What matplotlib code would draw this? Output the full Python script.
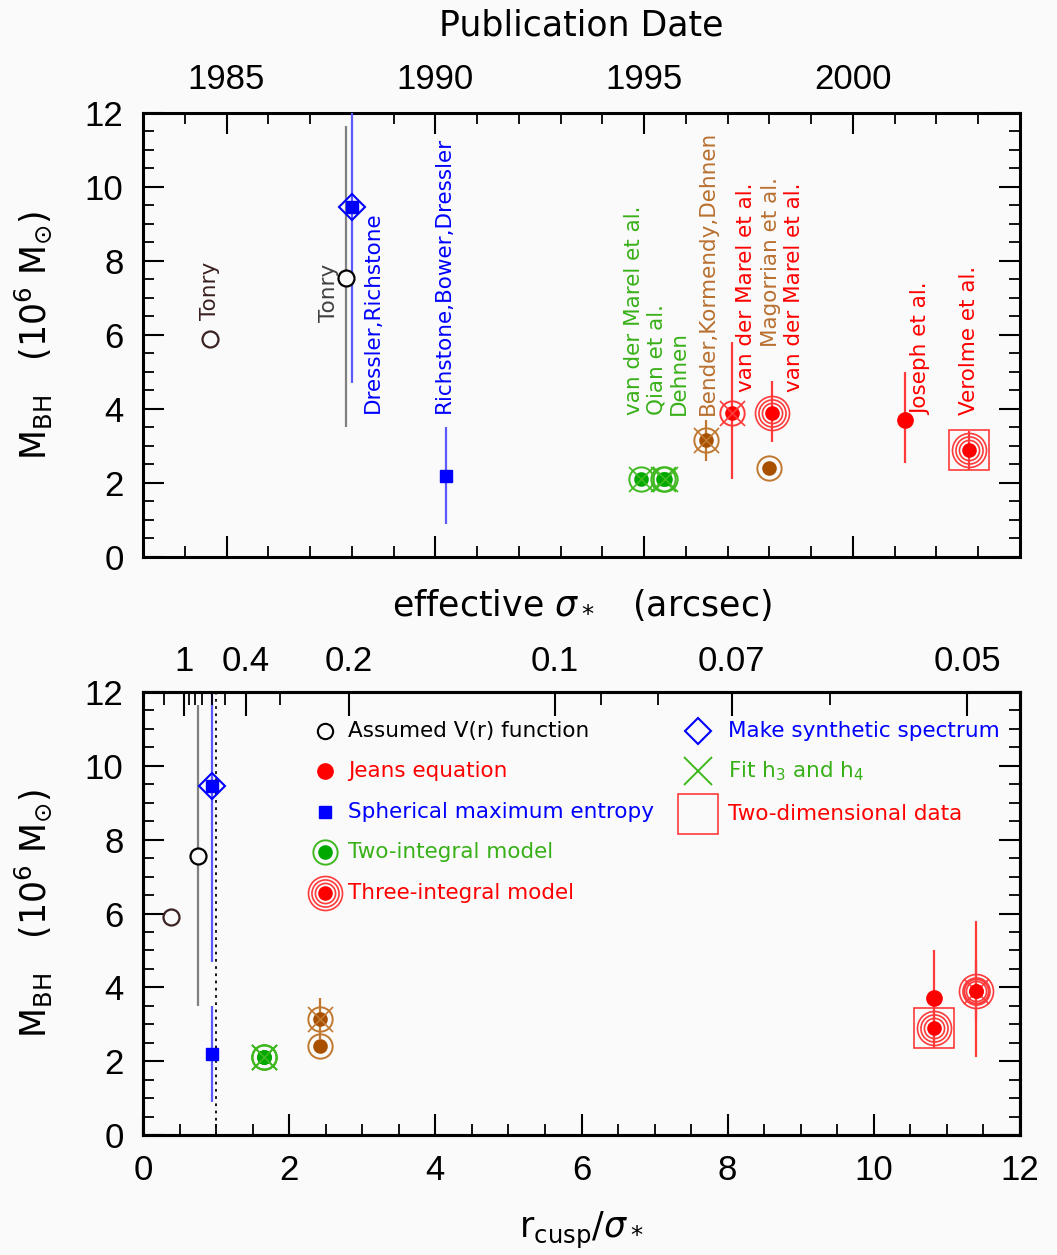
import numpy as np
import matplotlib
matplotlib.use("Agg")
import matplotlib.pyplot as plt
from matplotlib.ticker import MultipleLocator, FixedLocator

# ---------------- data ----------------
ref_labels = ["Tonry", "Tonry", "Dressler,Richstone", "Richstone,Bower,Dressler",
              "van der Marel et al.", "Qian et al.", "Dehnen", "Bender,Kormendy,Dehnen",
              "van der Marel et al.", "Magorrian et al.", "van der Marel et al.",
              "Joseph et al.", "Verolme et al."]
pub_year = [1984.6, 1987.85, 1988.0, 1990.25, 1994.92, 1995.45, 1995.5,
            1996.47, 1997.1, 1998.0, 1998.05, 2001.25, 2002.77]
m_bh = [5.9, 7.55, 9.45, 2.2, 2.1, 2.1, 2.1, 3.15, 3.9, 2.4, 3.9, 3.7, 2.9]
err_lo = [np.nan, 3.5, 4.7, 0.9, np.nan, np.nan, np.nan, 2.6, 2.1, np.nan, 3.1, 2.55, 2.35]
err_hi = [np.nan, 11.65, 13.0, 3.5, np.nan, np.nan, np.nan, 3.7, 5.8, np.nan, 4.75, 5.0, 3.4]
r_over_sigma = [0.38, 0.75, 0.95, 0.95, 1.66, 1.66, 1.66, 2.42, 11.4, 2.42, 11.4, 10.83, 10.83]
model = ["vr", "vr", "maxent", "maxent", "2int", "2int", "2int", "2int", "2int",
         "2int", "3int", "jeans", "3int"]
synth_spec = [False, False, True, False, False, False, False, False, False, False, False, False, False]
fit_h3h4 = [False, False, False, False, True, True, True, True, True, False, False, False, False]
two_dim = [False] * 12 + [True]

sigma_major = [1, 0.4, 0.2, 0.1, 0.07, 0.05]
sigma_minor = [2, 0.9, 0.8, 0.7, 0.6, 0.5, 0.3, 0.09, 0.08, 0.06]
r_cusp = 0.564  # arcsec
dotted_x = 1.0

legend_left = ["Assumed V(r) function", "Jeans equation", "Spherical maximum entropy",
               "Two-integral model", "Three-integral model"]
legend_right = ["Make synthetic spectrum", "Fit h$_3$ and h$_4$", "Two-dimensional data"]

# ---------------- styles ----------------
RED, RED_L = "#ff0000", "#ff3a3a"
GREEN, GREEN_L, GREEN_T = "#00a800", "#40b820", "#38b018"
BROWN, BROWN_L, BROWN_T = "#a85000", "#c07830", "#b87030"
BLUE, BLUE_L = "#0000ff", "#5a5aff"
pt_col = ["#3a2020", "#000000", BLUE, BLUE, GREEN, GREEN, GREEN, BROWN, RED, BROWN, RED, RED, RED]
ring_col = [None, None, None, None, GREEN_L, GREEN_L, GREEN_L, BROWN_L, RED_L, BROWN_L, RED_L, None, RED_L]
err_col = [None, "#808080", BLUE_L, BLUE_L, None, None, None, BROWN_L, RED_L, None, RED_L, RED_L, RED_L]
lab_col = ["#3a2020", "#404040", BLUE, BLUE, GREEN_T, GREEN_T, GREEN_T, BROWN_T, RED, BROWN_T, RED, RED, RED]
# label anchor (x in years, y = lower end of text)
lab_pos = [(1984.6, 6.4), (1987.45, 6.35), (1988.5, 3.9), (1990.2, 3.9), (1994.75, 3.84),
           (1995.3, 3.84), (1995.84, 3.84), (1996.53, 3.84), (1997.45, 4.46), (1998.03, 5.68),
           (1998.6, 4.46), (2001.64, 3.84), (2002.77, 3.84)]

BG = "#fafafa"
TICKFONT = "Liberation Sans"
plt.rcParams["font.family"] = ["DejaVu Sans"]
plt.rcParams["mathtext.fontset"] = "dejavusans"


def draw_marker(ax, x, y, i, clip=True):
    kw = dict(linestyle="none", clip_on=clip)
    m = model[i]
    if synth_spec[i]:
        ax.plot(x, y, "D", ms=13, mfc="none", mec=BLUE, mew=1.5, zorder=5, **kw)
    if m == "vr":
        ax.plot(x, y, "o", ms=11.5, mfc=BG, mec=pt_col[i], mew=1.6, zorder=6, **kw)
    elif m == "maxent":
        ax.plot(x, y, "s", ms=9, color=pt_col[i], zorder=6, **kw)
    elif m == "jeans":
        ax.plot(x, y, "o", ms=11, color=pt_col[i], zorder=6, **kw)
    elif m == "2int":
        ax.plot(x, y, "o", ms=9.5, color=pt_col[i], zorder=6, **kw)
        ax.plot(x, y, "o", ms=17.5, mfc="none", mec=ring_col[i], mew=1.4, zorder=6, **kw)
    elif m == "3int":
        ax.plot(x, y, "o", ms=9.5, color=pt_col[i], zorder=6, **kw)
        for s in (14.5, 19.5, 24.5):
            ax.plot(x, y, "o", ms=s, mfc="none", mec=ring_col[i], mew=1.2, zorder=6, **kw)
    if fit_h3h4[i]:
        ax.plot(x, y, "x", ms=18, mec=ring_col[i] or pt_col[i], mew=1.2, zorder=6, **kw)
    if two_dim[i]:
        ax.plot(x, y, "s", ms=29, mfc="none", mec=RED_L, mew=1.2, zorder=6, **kw)


def draw_err(ax, x, i):
    if not np.isnan(err_lo[i]):
        ax.vlines(x, err_lo[i], err_hi[i], colors=err_col[i], lw=1.6, zorder=3)


def style_axis(ax):
    ax.set_facecolor(BG)
    for s in ax.spines.values():
        s.set_linewidth(2.2)
    ax.set_ylim(0, 12)
    ax.yaxis.set_major_locator(MultipleLocator(2))
    ax.yaxis.set_minor_locator(MultipleLocator(0.5))
    ax.tick_params(axis="both", which="major", direction="in", length=15, width=1.5)
    ax.tick_params(axis="both", which="minor", direction="in", length=8, width=1.3)
    ax.tick_params(axis="y", which="both", left=True, right=True, pad=14)
    for lab in ax.get_yticklabels():
        lab.set_fontfamily(TICKFONT)
        lab.set_fontsize(25)
    ax.set_ylabel(r"M$_{\mathrm{BH}}$   (10$^{6}$ M$_{\odot}$)", fontsize=25, labelpad=22)


fig = plt.figure(figsize=(10.57, 12.55), dpi=100, facecolor=BG)
ax1 = fig.add_axes([0.1353, 0.5562, 0.8297, 0.3538])
ax2 = fig.add_axes([0.1353, 0.0956, 0.8297, 0.3530])

# ---------------- top panel ----------------
ax1.set_xlim(1983, 2004)
style_axis(ax1)
ax1.xaxis.set_major_locator(MultipleLocator(5))
ax1.xaxis.set_minor_locator(MultipleLocator(1))
ax1.tick_params(axis="x", which="both", top=True, bottom=True, labeltop=True,
                labelbottom=False, pad=12)
for lab in ax1.get_xticklabels():
    lab.set_fontfamily(TICKFONT)
    lab.set_fontsize(25)
ax1.xaxis.set_label_position("top")
ax1.set_xlabel("Publication Date", fontsize=25, labelpad=20)

for i in range(len(pub_year)):
    draw_err(ax1, pub_year[i], i)
    draw_marker(ax1, pub_year[i], m_bh[i], i)
    lx, ly = lab_pos[i]
    ax1.text(lx, ly, ref_labels[i], rotation=90, ha="center", va="bottom",
             color=lab_col[i], fontsize=15.5)

# ---------------- bottom panel ----------------
ax2.set_xlim(0, 12)
style_axis(ax2)
ax2.xaxis.set_major_locator(MultipleLocator(2))
ax2.xaxis.set_minor_locator(MultipleLocator(0.5))
ax2.tick_params(axis="x", which="both", top=False, bottom=True, pad=14)
for lab in ax2.get_xticklabels():
    lab.set_fontfamily(TICKFONT)
    lab.set_fontsize(25)
ax2.set_xlabel(r"r$_{\mathrm{cusp}}$/$\sigma_*$", fontsize=25, labelpad=16)

ax2.axvline(dotted_x, color="black", ls=(0, (1.5, 2.5)), lw=1.3, zorder=2)
for i in range(len(r_over_sigma)):
    draw_err(ax2, r_over_sigma[i], i)
    draw_marker(ax2, r_over_sigma[i], m_bh[i], i)

top = ax2.twiny()
top.set_xlim(ax2.get_xlim())
top.xaxis.set_major_locator(FixedLocator([r_cusp / s for s in sigma_major]))
top.xaxis.set_minor_locator(FixedLocator([r_cusp / s for s in sigma_minor]))
top.set_xticklabels([f"{s:g}" for s in sigma_major], fontfamily=TICKFONT, fontsize=25)
top.tick_params(which="major", direction="in", length=17, width=1.5, pad=10)
top.tick_params(which="minor", direction="in", length=9, width=1.3)
for s in top.spines.values():
    s.set_linewidth(2.2)
top.set_xlabel(r"effective $\sigma_*$   (arcsec)", fontsize=25, labelpad=22)

# legend (drawn in axes fraction)
tr = ax2.transAxes
lx_m, lx_t = 0.2075, 0.234
rows_l = [0.912, 0.822, 0.729, 0.639, 0.546]
leg_cols_l = ["black", RED, BLUE, GREEN_T, RED]
ax2.plot(lx_m, rows_l[0], "o", ms=11, mfc=BG, mec="black", mew=1.5, transform=tr)
ax2.plot(lx_m, rows_l[1], "o", ms=11, color=RED, transform=tr)
ax2.plot(lx_m, rows_l[2], "s", ms=8, color=BLUE, transform=tr)
ax2.plot(lx_m, rows_l[3], "o", ms=9.5, color=GREEN, transform=tr)
ax2.plot(lx_m, rows_l[3], "o", ms=17.5, mfc="none", mec=GREEN_L, mew=1.4, transform=tr)
ax2.plot(lx_m, rows_l[4], "o", ms=9.5, color=RED, transform=tr)
for s in (14.5, 19.5, 24.5):
    ax2.plot(lx_m, rows_l[4], "o", ms=s, mfc="none", mec=RED_L, mew=1.2, transform=tr)
for t, y, c in zip(legend_left, rows_l, leg_cols_l):
    ax2.text(lx_t, y, t, transform=tr, color=c, fontsize=15.5, va="center", ha="left")

rx_m, rx_t = 0.633, 0.667
rows_r = [0.912, 0.822, 0.725]
leg_cols_r = [BLUE, GREEN_T, RED]
ax2.plot(rx_m, rows_r[0], "D", ms=13, mfc="none", mec=BLUE, mew=1.5, transform=tr)
ax2.plot(rx_m, rows_r[1], "x", ms=20, mec=GREEN_L, mew=1.4, transform=tr)
ax2.plot(rx_m, rows_r[2], "s", ms=29, mfc="none", mec=RED_L, mew=1.2, transform=tr)
for t, y, c in zip(legend_right, rows_r, leg_cols_r):
    ax2.text(rx_t, y, t, transform=tr, color=c, fontsize=15.5, va="center", ha="left")

fig.savefig("out.png", dpi=100, facecolor=BG)
